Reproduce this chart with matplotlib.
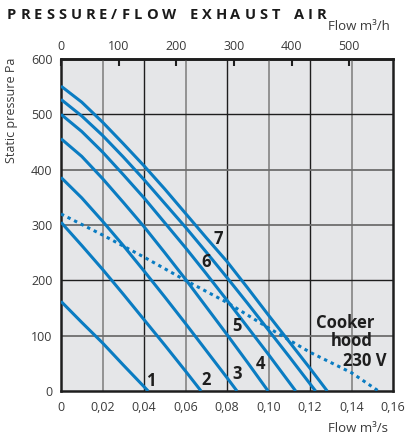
import matplotlib
matplotlib.use("Agg")
import matplotlib.pyplot as plt

plt.rcParams["font.family"] = ["Open Sans", "DejaVu Sans"]

# fan curves, flow in m3/s and static pressure in Pa
curve_1_q = [0, 0.01, 0.02, 0.03, 0.042]
curve_1_p = [162, 124, 87, 47, 0]
curve_2_q = [0, 0.01, 0.02, 0.03, 0.04, 0.05, 0.06, 0.0675]
curve_2_p = [305, 263, 220, 175, 129, 83, 36, 0]
curve_3_q = [0, 0.01, 0.02, 0.03, 0.04, 0.05, 0.06, 0.07, 0.08, 0.0848]
curve_3_p = [386, 349, 307, 263, 217, 170, 122, 73, 24, 0]
curve_4_q = [0, 0.01, 0.02, 0.03, 0.04, 0.05, 0.06, 0.07, 0.08, 0.09, 0.0998]
curve_4_p = [456, 424, 384, 341, 297, 250, 202, 152, 102, 51, 0]
curve_5_q = [0, 0.01, 0.02, 0.03, 0.04, 0.05, 0.06, 0.07, 0.08, 0.09, 0.10, 0.1131]
curve_5_p = [500, 469, 432, 391, 349, 304, 259, 212, 164, 115, 66, 0]
curve_6_q = [0, 0.01, 0.02, 0.03, 0.04, 0.05, 0.06, 0.07, 0.08, 0.09, 0.10, 0.11, 0.12, 0.1227]
curve_6_p = [527, 497, 462, 423, 382, 339, 296, 251, 205, 158, 110, 62, 13, 0]
curve_7_q = [0, 0.01, 0.02, 0.03, 0.04, 0.05, 0.06, 0.07, 0.08, 0.09, 0.10, 0.11, 0.12, 0.1283]
curve_7_p = [551, 522, 486, 447, 407, 365, 321, 277, 234, 186, 137, 89, 41, 0]

hood_q = [0, 0.02, 0.04, 0.06, 0.08, 0.10, 0.12, 0.14, 0.153]
hood_p = [320, 282, 242, 200, 160, 114, 70, 33, 0]

curves = [
    (curve_1_q, curve_1_p),
    (curve_2_q, curve_2_p),
    (curve_3_q, curve_3_p),
    (curve_4_q, curve_4_p),
    (curve_5_q, curve_5_p),
    (curve_6_q, curve_6_p),
    (curve_7_q, curve_7_p),
]
curve_names = ["1", "2", "3", "4", "5", "6", "7"]
label_pos = [
    (0.0434, 18), (0.0699, 20), (0.0847, 30), (0.0962, 48),
    (0.0847, 117), (0.0697, 234), (0.0758, 275),
]

x_ticks = [0, 0.02, 0.04, 0.06, 0.08, 0.10, 0.12, 0.14, 0.16]
x_tick_labels = ["0", "0,02", "0,04", "0,06", "0,08", "0,10", "0,12", "0,14", "0,16"]
y_ticks = [0, 100, 200, 300, 400, 500, 600]
top_ticks = [0, 100, 200, 300, 400, 500]

BLUE = "#0a7cc2"
BG = "#e5e6e8"
DARK = "#1e1e1e"
GREY = "#8c8c8c"
TEXT = "#3a3a3a"

W, H = 408, 437
fig = plt.figure(figsize=(W / 100, H / 100), dpi=100)
ax = fig.add_axes([61 / W, 46 / H, 332 / W, 332 / H])
ax.set_facecolor(BG)
ax.set_xlim(0, 0.16)
ax.set_ylim(0, 600)

# grid: alternating dark and grey rules
for i, q in enumerate(x_ticks[1:-1]):
    ax.axvline(q, color=GREY if i % 2 == 0 else DARK, lw=1.3 if i % 2 == 0 else 1.0, zorder=1)
for p in y_ticks[1:-1]:
    dark = p in (200, 500)
    ax.axhline(p, color=DARK if dark else "#6e6e6e", lw=1.0 if dark else 1.3, zorder=1)

for q, p in curves:
    ax.plot(q, p, color=BLUE, lw=2.2, solid_capstyle="butt", solid_joinstyle="round", zorder=3)
ax.plot(hood_q, hood_p, color=BLUE, lw=2.2, linestyle=(0, (1.1, 1.3)), zorder=3)

for name, (q, p) in zip(curve_names, label_pos):
    ax.text(q, p, name, fontsize=12, fontweight="bold", color=DARK,
            ha="center", va="center", zorder=4)

ax.text(0.1369, 122, "Cooker", fontsize=12, fontweight="bold", color=DARK, ha="center", va="center")
ax.text(0.1401, 90, "hood", fontsize=12, fontweight="bold", color=DARK, ha="center", va="center")
ax.text(0.1465, 54, "230 V", fontsize=12, fontweight="bold", color=DARK, ha="center", va="center")

ax.set_xticks(x_ticks)
ax.set_xticklabels(x_tick_labels)
ax.set_yticks(y_ticks)
ax.tick_params(axis="both", length=0, labelsize=9, labelcolor=TEXT)
ax.tick_params(axis="x", pad=7)
ax.tick_params(axis="y", pad=6)
for s in ax.spines.values():
    s.set_color(DARK)
    s.set_linewidth(1.8)

top = ax.secondary_xaxis("top", functions=(lambda q: q * 3600, lambda f: f / 3600))
top.set_xticks(top_ticks)
top.tick_params(direction="in", length=5, width=1.5, color=DARK,
                labelsize=9, labelcolor=TEXT, pad=4)
top.spines["top"].set_linewidth(1.8)

ax.set_ylabel("Static pressure Pa", fontsize=9, color=TEXT)
ax.yaxis.set_label_coords(-0.15, 0.845)
ax.yaxis.label.set_va("center")

fig.text(390 / W, 1 - 27 / H, "Flow m³/h", fontsize=9.5, color=TEXT, ha="right", va="center")
fig.text(388 / W, 1 - 428 / H, "Flow m³/s", fontsize=9.5, color=TEXT, ha="right", va="center")

# spaced-out title, placed one letter at a time
title = "PRESSURE/FLOW EXHAUST AIR"
renderer = fig.canvas.get_renderer()
x = 7
for ch in title:
    if ch == " ":
        x += 9.5
        continue
    t = fig.text(x / W, 1 - 15 / H, ch, fontsize=10.5, fontweight="bold",
                 color="#1a1a1a", ha="left", va="center")
    x += t.get_window_extent(renderer).width + 4.0

fig.savefig("out.png", dpi=100)
